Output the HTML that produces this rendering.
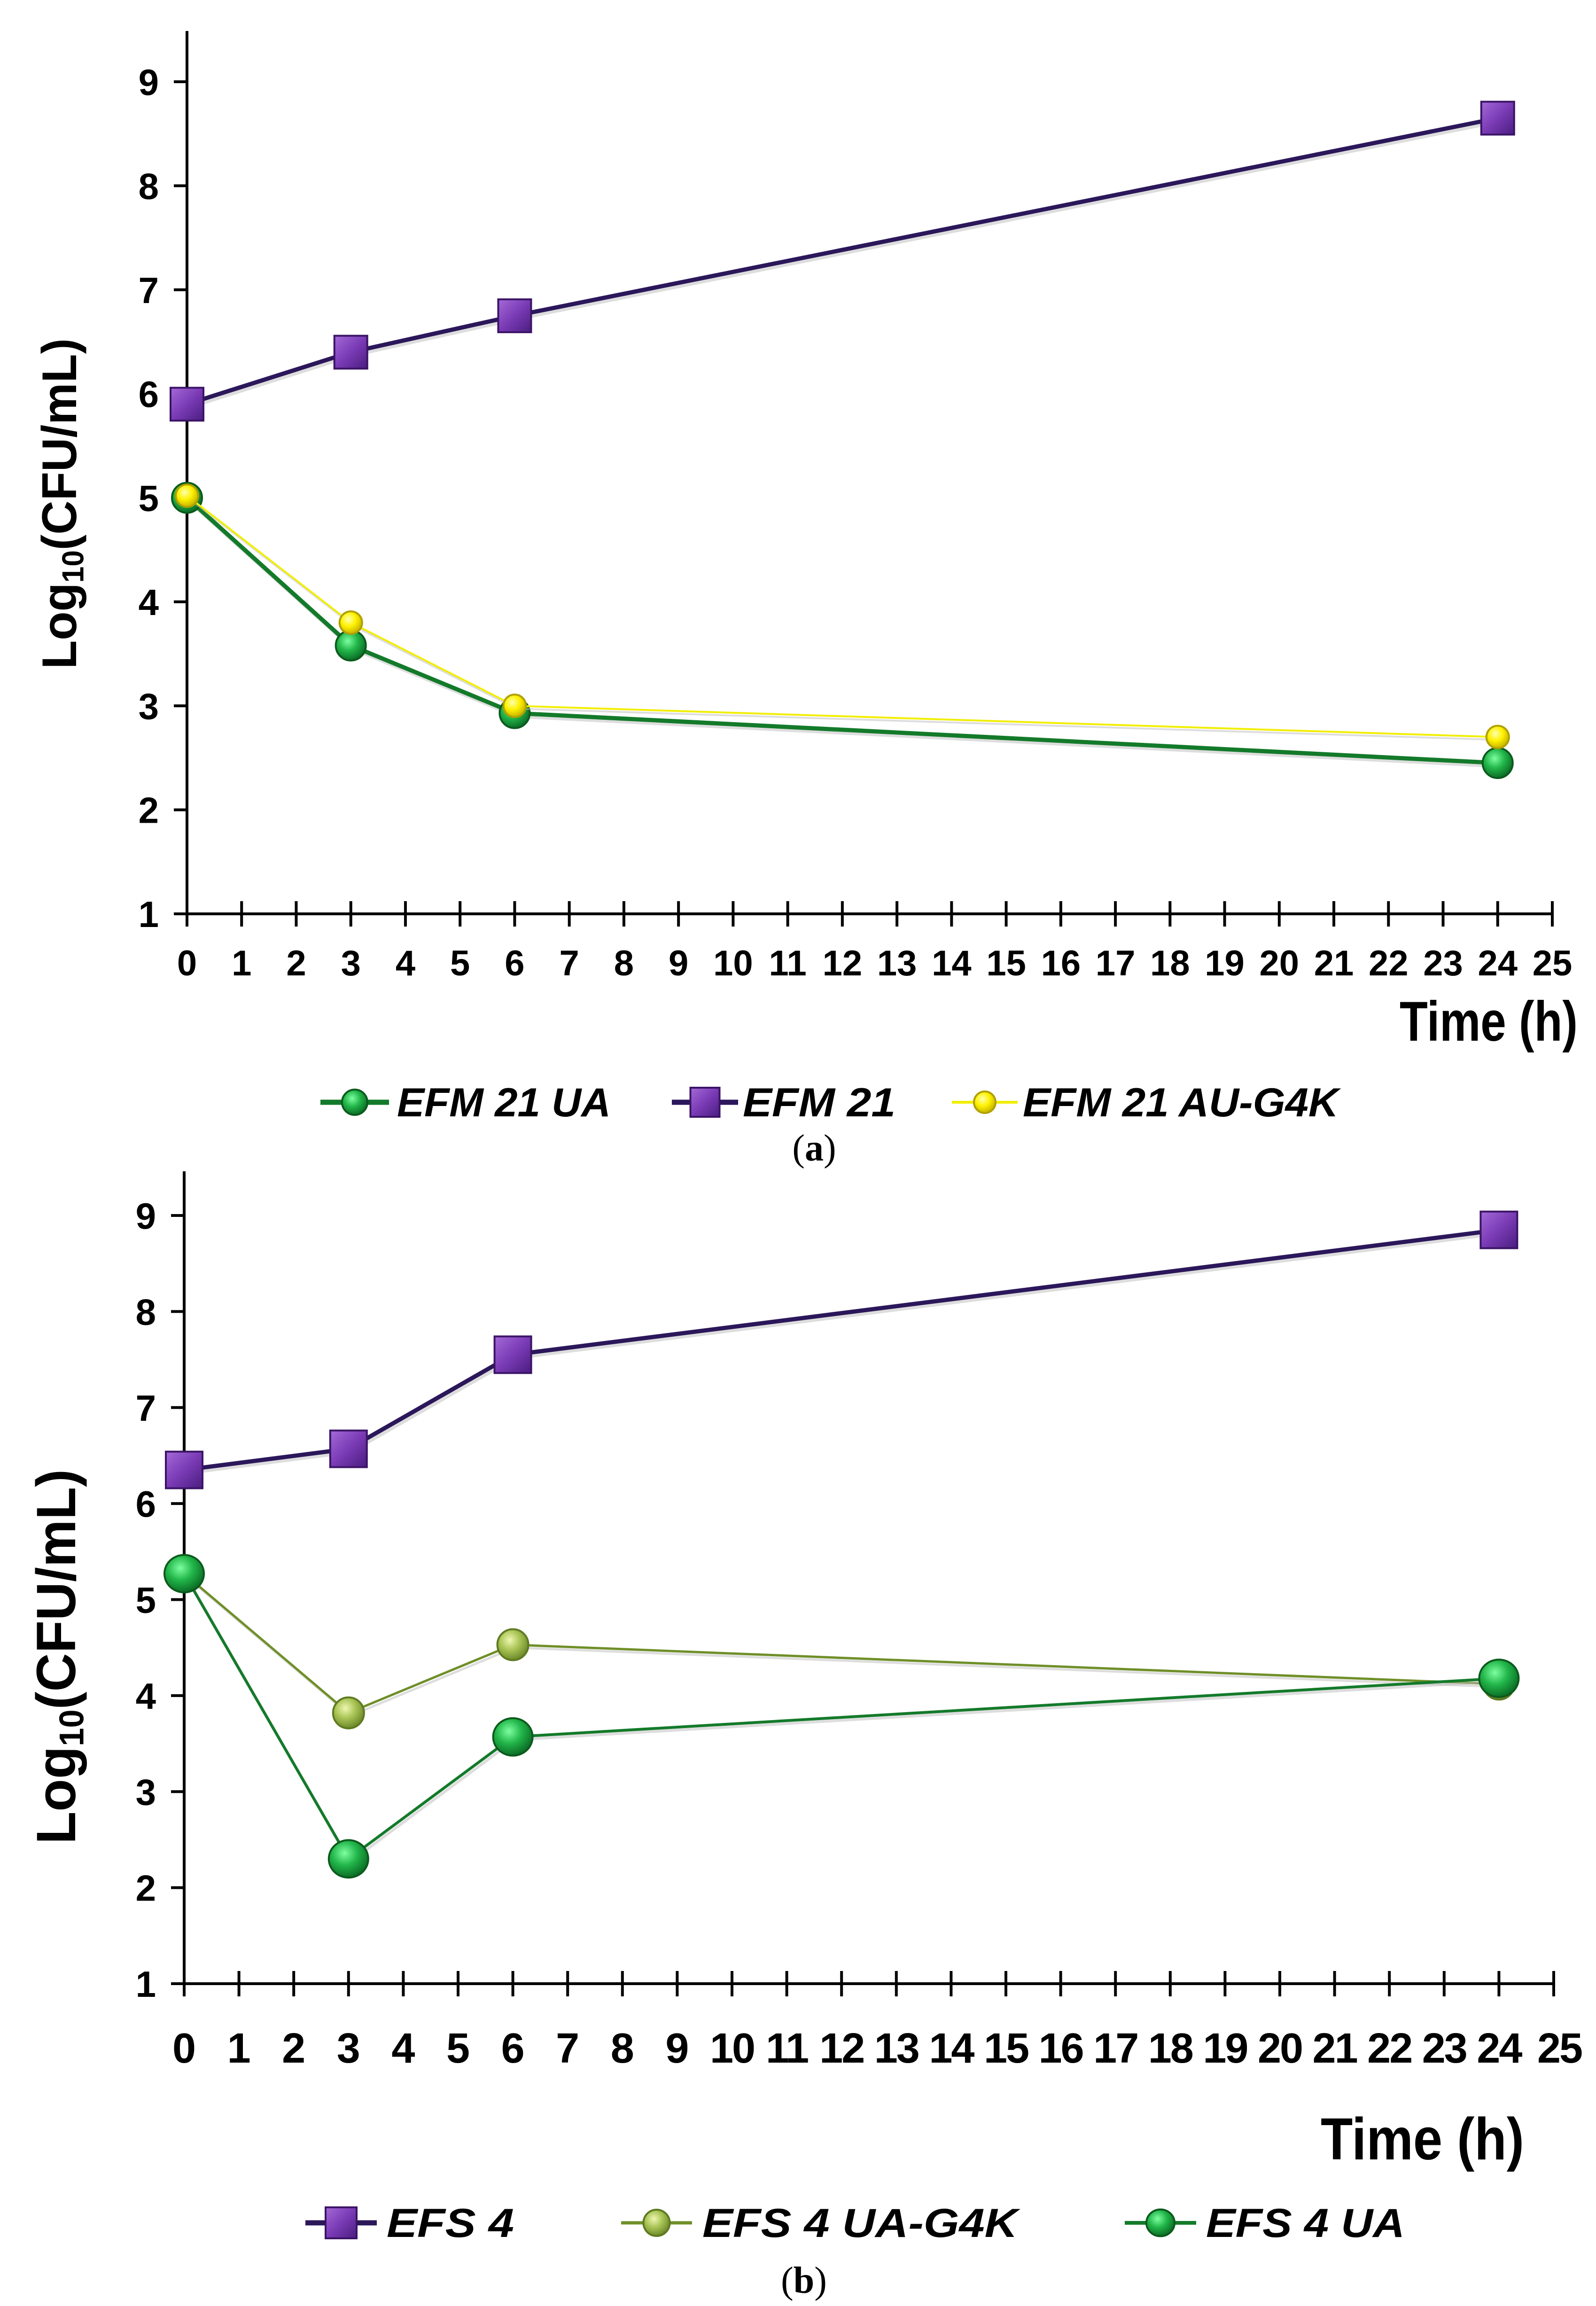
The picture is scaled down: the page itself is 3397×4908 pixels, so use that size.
<!DOCTYPE html>
<html><head><meta charset="utf-8"><style>
html,body{margin:0;padding:0;background:#fff;}
svg{display:block;}
</style></head><body>
<svg id="fig" xmlns="http://www.w3.org/2000/svg" width="3397" height="4908" viewBox="0 0 3397 4908">
<defs>
<radialGradient id="gGreen" cx="0.4" cy="0.35" r="0.65"><stop offset="0" stop-color="#7dffa0"/><stop offset="0.5" stop-color="#22b64a"/><stop offset="1" stop-color="#0c6e26"/></radialGradient>
<radialGradient id="gYellow" cx="0.4" cy="0.35" r="0.65"><stop offset="0" stop-color="#ffffb0"/><stop offset="0.5" stop-color="#fff200"/><stop offset="1" stop-color="#c8b400"/></radialGradient>
<radialGradient id="gOlive" cx="0.4" cy="0.35" r="0.65"><stop offset="0" stop-color="#eef7b0"/><stop offset="0.5" stop-color="#a9c455"/><stop offset="1" stop-color="#6d8a2a"/></radialGradient>
<linearGradient id="gPurple" x1="0" y1="0" x2="1" y2="1"><stop offset="0" stop-color="#a56ad8"/><stop offset="0.5" stop-color="#7a3bb5"/><stop offset="1" stop-color="#4a1d80"/></linearGradient>
</defs>
<g id="chartA"></g>
<g id="chartB"></g>
<text x="1733" y="2470" font-family="Liberation Serif, serif" font-size="80" text-anchor="middle">(<tspan font-weight="bold">a</tspan>)</text>
<text x="1711" y="4880" font-family="Liberation Serif, serif" font-size="80" text-anchor="middle">(<tspan font-weight="bold">b</tspan>)</text>
</svg>
<script>
const NS='http://www.w3.org/2000/svg';
const timesA=[0,3,6,24];
const efm21=[5.9,6.4,6.75,8.65];
const efm21UA=[5.0,3.58,2.93,2.45];
const efm21G4K=[5.02,3.8,3.0,2.7];
const timesB=[0,3,6,24];
const efs4=[6.35,6.57,7.55,8.85];
const efs4G4K=[5.27,3.82,4.53,4.12];
const efs4UA=[5.27,2.3,3.57,4.18];
const xTicks=[0,1,2,3,4,5,6,7,8,9,10,11,12,13,14,15,16,17,18,19,20,21,22,23,24,25];
const yTicks=[1,2,3,4,5,6,7,8,9];

function el(tag,attrs,parent,text){const e=document.createElementNS(NS,tag);for(const k in attrs)e.setAttribute(k,attrs[k]);if(text!==undefined)e.textContent=text;parent.appendChild(e);return e;}

function chart(g,cfg){
  const X=v=>cfg.x0+(v-0)*(cfg.x25-cfg.x0)/25;
  const Y=v=>cfg.y1+(v-1)*(cfg.y9-cfg.y1)/8;
  const ax=el('line',{x1:X(0),y1:cfg.top,x2:X(0),y2:Y(1),stroke:'#000','stroke-width':6},g);
  
  const bx=el('line',{x1:X(0)-20,y1:Y(1),x2:X(25),y2:Y(1),stroke:'#000','stroke-width':6},g);
  
  xTicks.forEach(t=>{
    const tk=el('line',{x1:X(t),y1:Y(1)-27,x2:X(t),y2:Y(1)+27,stroke:'#000','stroke-width':6},g);
    
    const lb=el('text',{x:X(t)+(t===25&&cfg.xfs>80?12:0),y:cfg.xLabY,'font-family':'Liberation Sans, sans-serif','font-weight':'bold','font-size':cfg.xfs,'text-anchor':'middle'},g,String(t));
    if(cfg.xfs>80&&t>=10)lb.setAttribute('letter-spacing','-3');
    
  });
  yTicks.forEach(t=>{
    const tk=el('line',{x1:X(0)-28,y1:Y(t),x2:X(0),y2:Y(t),stroke:'#000','stroke-width':6},g);
    
    const lb=el('text',{x:X(0)-60,y:Y(t)+28,'font-family':'Liberation Sans, sans-serif','font-weight':'bold','font-size':78,'text-anchor':'end'},g,String(t));
    
  });
  const yt=el('text',{transform:`translate(${cfg.ytx},${cfg.ytc}) rotate(-90)`,'font-family':'Liberation Sans, sans-serif','font-weight':'bold','font-size':cfg.ytfs,'text-anchor':'middle',textLength:cfg.ytLen,lengthAdjust:'spacingAndGlyphs'},g);
  
  el('tspan',{},yt,'Log');el('tspan',{'font-size':cfg.ytfs*0.62,dy:cfg.ytfs*0.15},yt,'10');el('tspan',{dy:-cfg.ytfs*0.15},yt,'(CFU/mL)');
  const xt=el('text',{x:cfg.xtR,y:cfg.xtY,'font-family':'Liberation Sans, sans-serif','font-weight':'bold','font-size':cfg.xtfs,'text-anchor':'end',textLength:cfg.xtLen,lengthAdjust:'spacingAndGlyphs'},g,'Time (h)');
  
  cfg.series.forEach(s=>{
    const pts=cfg.times.map((t,i)=>X(t)+','+Y(s.vals[i])).join(' ');
    const sh=el('polyline',{points:pts,fill:'none',stroke:'#bbb','stroke-width':s.w,'stroke-opacity':0.5,transform:'translate(4,6)'},g);
    
    const pl=el('polyline',{points:pts,fill:'none',stroke:s.color,'stroke-width':s.w,'stroke-linejoin':'round'},g);
    
    cfg.times.forEach((t,i)=>{
      const m=marker(g,s,X(t),Y(s.vals[i]));
      
      
    });
  });
  cfg.legend.forEach(L=>{
    const s=cfg.series[L.idx];
    const lg=el('g',{},g);
    
    el('line',{x1:L.x1,y1:cfg.legY,x2:L.x2,y2:cfg.legY,stroke:s.color,'stroke-width':s.w+2},lg);
    marker(lg,Object.assign({},s,{size:s.lsize}),(L.x1+L.x2)/2,cfg.legY);
    el('text',{x:L.tx,y:cfg.legY+30,'font-family':'Liberation Sans, sans-serif','font-style':'italic','font-weight':'bold','font-size':86,textLength:L.tl,lengthAdjust:'spacingAndGlyphs'},lg,L.label);
  });
}
function marker(g,s,cx,cy){
  if(s.shape==='sq'){const h=s.size/2;return el('rect',{x:cx-h,y:cy-h,width:s.size,height:s.size,fill:'url(#gPurple)',stroke:'#3b1466','stroke-width':4},g);}
  return el('ellipse',{cx:cx,cy:cy,rx:s.size/2,ry:s.size/2*(s.ry||1),fill:s.fill,stroke:s.stroke,'stroke-width':4},g);
}
chart(document.getElementById('chartA'),{
  x0:398,x25:3304,y1:1945,y9:174,top:66,xLabY:2076,xfs:76,times:timesA,
  ytx:162,ytc:1072,ytfs:104,ytLen:704,xtR:3358,xtY:2215,xtfs:120,xtLen:379,legY:2346,
  series:[
    {name:'efm21',vals:efm21,color:'#2b175a',w:9,shape:'sq',size:70,lsize:62},
    {name:'efm21-ua',vals:efm21UA,color:'#137a2a',w:9,shape:'c',size:64,lsize:54,fill:'url(#gGreen)',stroke:'#0b5a1c'},
    {name:'efm21-au-g4k',vals:efm21G4K,color:'#f2ee00',w:4,shape:'c',size:48,lsize:46,fill:'url(#gYellow)',stroke:'#b0a000'}
  ],
  legend:[
    {idx:1,x1:682,x2:828,tx:845,tl:455,label:'EFM  21 UA'},
    {idx:0,x1:1430,x2:1571,tx:1581,tl:325,label:'EFM  21'},
    {idx:2,x1:2026,x2:2166,tx:2177,tl:672,label:'EFM  21 AU-G4K'}
  ]
});
chart(document.getElementById('chartB'),{
  x0:392,x25:3307,y1:4222,y9:2587,top:2493,xLabY:4390,xfs:90,times:timesB,
  ytx:160,ytc:3526,ytfs:118,ytLen:798,xtR:3244,xtY:4596,xtfs:126,xtLen:433,legY:4731,
  series:[
    {name:'efs4',vals:efs4,color:'#2b175a',w:9,shape:'sq',size:78,lsize:66},
    {name:'efs4-ua-g4k',vals:efs4G4K,color:'#6f8f28',w:5,shape:'c',size:66,lsize:56,fill:'url(#gOlive)',stroke:'#5e7a20'},
    {name:'efs4-ua',vals:efs4UA,color:'#137a2a',w:6,shape:'c',size:84,lsize:60,fill:'url(#gGreen)',stroke:'#0b5a1c',ry:0.95}
  ],
  legend:[
    {idx:0,x1:650,x2:802,tx:823,tl:271,label:'EFS 4'},
    {idx:1,x1:1322,x2:1473,tx:1495,tl:671,label:'EFS 4 UA-G4K'},
    {idx:2,x1:2394,x2:2546,tx:2567,tl:423,label:'EFS 4 UA'}
  ]
});
</script>
</body></html>
